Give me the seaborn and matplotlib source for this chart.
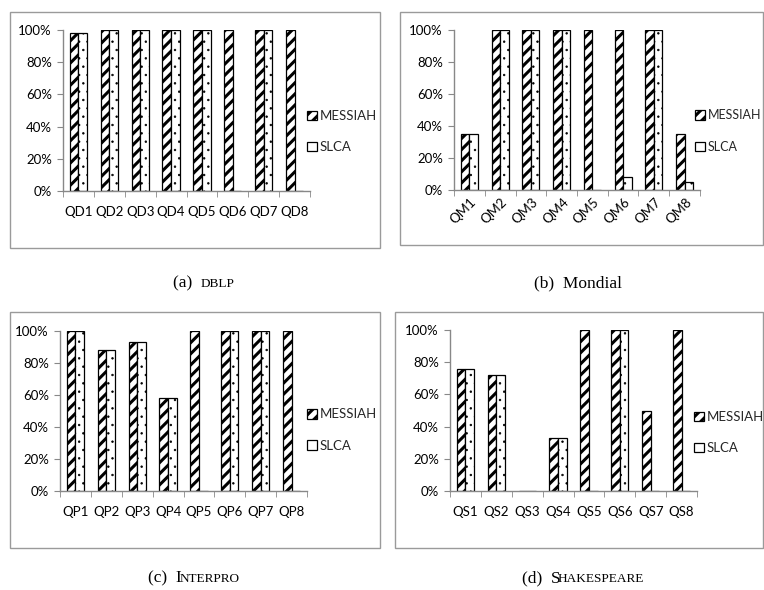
import numpy as np
import pandas as pd
import matplotlib
matplotlib.use("Agg")
import matplotlib.pyplot as plt
import matplotlib.transforms as mtransforms
import seaborn as sns
from matplotlib.patches import Rectangle, Patch
from matplotlib.ticker import FixedLocator, PercentFormatter

sns.set_style("white")
plt.rcParams["font.family"] = ["Lato", "DejaVu Sans"]
plt.rcParams["hatch.linewidth"] = 2.2

SERIES = ["MESSIAH", "SLCA"]

dblp_queries = ["QD1", "QD2", "QD3", "QD4", "QD5", "QD6", "QD7", "QD8"]
dblp_messiah = [98, 100, 100, 100, 100, 100, 100, 100]
dblp_slca = [98, 100, 100, 100, 100, 0, 100, 0]

mondial_queries = ["QM1", "QM2", "QM3", "QM4", "QM5", "QM6", "QM7", "QM8"]
mondial_messiah = [35, 100, 100, 100, 100, 100, 100, 35]
mondial_slca = [35, 100, 100, 100, 0, 8, 100, 5]

interpro_queries = ["QP1", "QP2", "QP3", "QP4", "QP5", "QP6", "QP7", "QP8"]
interpro_messiah = [100, 88, 93, 58, 100, 100, 100, 100]
interpro_slca = [100, 88, 93, 58, 0, 100, 100, 0]

shakes_queries = ["QS1", "QS2", "QS3", "QS4", "QS5", "QS6", "QS7", "QS8"]
shakes_messiah = [76, 72, 0, 33, 100, 100, 50, 100]
shakes_slca = [76, 72, 0, 33, 0, 100, 0, 0]

W, H = 764, 590
FS = 9.5
fig = plt.figure(figsize=(W / 100, H / 100), dpi=100)


def px_axes(l, r, t, b):
    return fig.add_axes([l / W, 1 - b / H, (r - l) / W, (b - t) / H])


def frame(l, r, t, b):
    fig.patches.append(Rectangle((l / W, 1 - b / H), (r - l) / W, (b - t) / H,
                                 transform=fig.transFigure, fill=False,
                                 edgecolor="#9a9a9a", linewidth=1.0))


def thin_hatch(p, lw=0.5):
    # dots need a thin hatch line, stripes a thick one
    if hasattr(p, "set_hatch_linewidth"):
        p.set_hatch_linewidth(lw)
    orig = p.draw

    def draw(renderer, orig=orig):
        with matplotlib.rc_context({"hatch.linewidth": lw}):
            orig(renderer)
    p.draw = draw


def panel(ax, queries, messiah, slca, leg_x, leg_y, rotate=False, leg_fs=FS):
    df = pd.DataFrame({
        "query": queries * 2,
        "series": ["MESSIAH"] * len(queries) + ["SLCA"] * len(queries),
        "value": messiah + slca,
    })
    sns.barplot(data=df, x="query", y="value", hue="series", hue_order=SERIES,
                palette=["white", "white"], width=0.56, ax=ax,
                edgecolor="black", linewidth=0.9, legend=False)
    for p in ax.containers[0]:
        p.set_hatch("///")
    for p in ax.containers[1]:
        p.set_hatch("..")
        thin_hatch(p)
    ax.set_xlim(-0.5, len(queries) - 0.5)
    ax.set_ylim(0, 100)
    ax.yaxis.set_major_locator(FixedLocator([0, 20, 40, 60, 80, 100]))
    ax.yaxis.set_major_formatter(PercentFormatter(decimals=0))
    ax.set_xlabel("")
    ax.set_ylabel("")
    for s in ["top", "right"]:
        ax.spines[s].set_visible(False)
    for s in ["left", "bottom"]:
        ax.spines[s].set_color("#888888")
        ax.spines[s].set_linewidth(1.0)
    ax.xaxis.set_minor_locator(FixedLocator(np.arange(-0.5, len(queries), 1.0)))
    ax.tick_params(axis="x", which="major", length=0, pad=10.5, labelsize=FS, colors="black")
    ax.tick_params(axis="x", which="minor", length=4, color="#888888", direction="out", bottom=True)
    ax.tick_params(axis="y", length=4, color="#888888", direction="out", left=True,
                   labelsize=FS, pad=4, labelcolor="black")
    if rotate:
        ax.tick_params(axis="x", which="major", pad=7)
        shift = mtransforms.ScaledTranslation(5 / 100, 0, fig.dpi_scale_trans)
        for lab in ax.get_xticklabels():
            lab.set_rotation(45)
            lab.set_ha("right")
            lab.set_va("center")
            lab.set_rotation_mode("anchor")
            lab.set_transform(lab.get_transform() + shift)
    handles = [Patch(facecolor="white", edgecolor="black", hatch="///", linewidth=0.9, label="MESSIAH"),
               Patch(facecolor="white", edgecolor="black", linewidth=0.9, label="SLCA")]
    ax.legend(handles=handles, loc="center left",
              bbox_to_anchor=(leg_x / W, 1 - leg_y / H), bbox_transform=fig.transFigure,
              frameon=False, fontsize=leg_fs, handlelength=0.72 * FS / leg_fs,
              handleheight=0.72 * FS / leg_fs, handletextpad=0.25,
              labelspacing=1.45 * FS / leg_fs, borderaxespad=0, borderpad=0)


frame(10, 380, 12, 248)
frame(400, 763, 12, 245)
frame(10, 380, 312, 548)
frame(395, 763, 312, 548)

ax_a = px_axes(63, 310, 30, 191)
panel(ax_a, dblp_queries, dblp_messiah, dblp_slca, 307, 131.5)
ax_b = px_axes(454, 700, 30, 190)
panel(ax_b, mondial_queries, mondial_messiah, mondial_slca, 695, 131,
      rotate=True, leg_fs=9.0)
ax_c = px_axes(60, 307, 331, 491)
panel(ax_c, interpro_queries, interpro_messiah, interpro_slca, 307, 430)
ax_d = px_axes(450, 697, 330, 491)
panel(ax_d, shakes_queries, shakes_messiah, shakes_slca, 694, 432.5)


def caption(parts, cx, cy, tuck=0.0):
    # small caps faked with a smaller size; pieces laid side by side
    renderer = fig.canvas.get_renderer()
    texts = []
    x = 0.0
    for i, (t, s) in enumerate(parts):
        txt = fig.text(x / W, 1 - cy / H, t, family="Liberation Serif", size=s,
                       ha="left", va="baseline", color="black")
        x += txt.get_window_extent(renderer).width
        if i < len(parts) - 1:
            x -= tuck
        texts.append(txt)
    x0 = cx - x / 2
    for txt in texts:
        px, py = txt.get_position()
        txt.set_x(px + x0 / W)


caption([("(a)  ", 12.5), ("DBLP", 9.5)], 204, 287)
caption([("(b)  Mondial", 12.5)], 578, 287)
caption([("(c)  I", 12.5), ("NTERPRO", 9.5)], 194, 582, tuck=2.0)
caption([("(d)  S", 12.5), ("HAKESPEARE", 9.5)], 583, 582, tuck=2.5)

fig.savefig("out.png", dpi=100)
